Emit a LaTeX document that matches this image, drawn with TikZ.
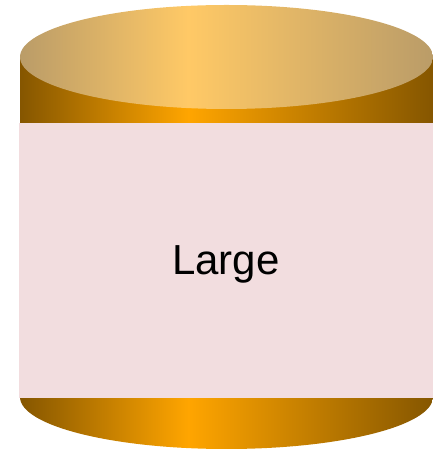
\documentclass[tikz,border=0pt]{standalone}
\usepackage{fontspec}
\setmainfont{Liberation Sans}
\usepackage{xcolor}
\usepackage{tikz}
\usetikzlibrary{positioning}
\definecolor{cylDark}{HTML}{855600}
\definecolor{cylOrange}{HTML}{FFA500}
\definecolor{cylTopEdge}{HTML}{BA9C68}
\definecolor{cylTopMid}{HTML}{FFC966}
\definecolor{cylPink}{HTML}{F2DDDF}
\pgfdeclarehorizontalshading{cyl body}{100bp}{color(0bp)=(cylDark); color(25bp)=(cylDark);
  color(45.35bp)=(cylOrange); color(75bp)=(cylDark); color(100bp)=(cylDark)}
\pgfdeclarehorizontalshading{cyl top}{100bp}{color(0bp)=(cylTopEdge); color(25bp)=(cylTopEdge);
  color(45.35bp)=(cylTopMid); color(75bp)=(cylTopEdge); color(100bp)=(cylTopEdge)}
\tikzset{
  cyl side/.style={shading=cyl body,draw=none},
  cyl lid/.style={shading=cyl top,draw=none},
  label box/.style={fill=cylPink,draw=none,inner sep=0pt,minimum width=414pt,minimum height=275pt,
    text height=29pt,text depth=0pt,font=\fontsize{42}{50}\selectfont}
}

\begin{document}
\begin{tikzpicture}[x=1pt,y=1pt]
\useasboundingbox (0,0) rectangle (432,449);
% body and lid of the cylinder
\shade[cyl side] (20,392) -- (20,52) arc[start angle=180,end angle=360,x radius=206.5,y radius=52] -- (433,392) -- cycle;
\shade[cyl lid] (226.5,392) ellipse[x radius=206.5,y radius=52];
\node[label box] (large) at (226,188.5) {Large};
\end{tikzpicture}
\end{document}
